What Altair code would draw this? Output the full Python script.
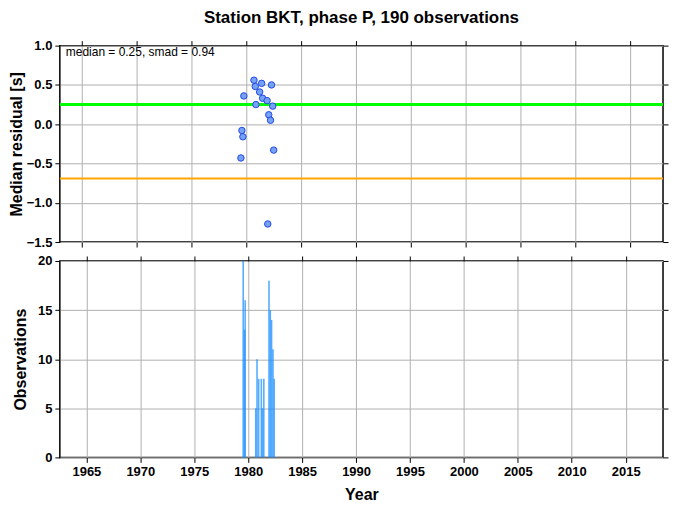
import altair as alt
import pandas as pd

# ---- data ----
pt_years = [1980.70, 1981.40, 1982.30, 1980.82, 1981.22, 1979.78, 1981.49, 1981.90,
            1980.88, 1982.41, 1982.05, 1982.21, 1979.60, 1979.69, 1982.50, 1979.51, 1981.96]
pt_resid = [0.56, 0.52, 0.50, 0.48, 0.41, 0.36, 0.33, 0.30,
            0.25, 0.23, 0.12, 0.05, -0.08, -0.16, -0.33, -0.43, -1.27]

bar_years = [1979.54, 1979.72, 1979.66, 1980.70, 1980.82, 1980.97, 1981.22, 1981.33,
             1981.45, 1981.93, 1982.05, 1982.17, 1982.30, 1982.41]
bar_counts = [20, 16, 13, 5, 10, 8, 8, 5, 8, 18, 15, 14, 11, 8]

median = 0.25
smad = 0.94
lower = median - smad
stats_text = ["median = 0.25, smad = 0.94"]
title_text = "Station BKT, phase P, 190 observations"

x_ticks = [1965, 1970, 1975, 1980, 1985, 1990, 1995, 2000, 2005, 2010, 2015]
y_top_ticks = [-1.5, -1.0, -0.5, 0.0, 0.5, 1.0]
y_bot_ticks = [0, 5, 10, 15, 20]

pts = pd.DataFrame({"year": pt_years, "resid": pt_resid})
bars = pd.DataFrame({"year": bar_years, "count": bar_counts})
lines = pd.DataFrame({"resid": [median, lower], "kind": ["median", "lower"]})
stats = pd.DataFrame({"t": stats_text})

FONT = "Liberation Sans"
W = 605
H = 197
xscale = alt.Scale(domain=[1963, 2018], nice=False, zero=False)
ytop_scale = alt.Scale(domain=[-1.5, 1.0], nice=False, zero=False)
ybot_scale = alt.Scale(domain=[0, 20], nice=False)

# ---- top panel ----
x_top_bottom_axis = alt.Axis(orient="bottom", values=x_ticks, labels=False, title=None,
                             grid=True, ticks=True)
y_top_axis = alt.Axis(orient="left", values=y_top_ticks, format=".1f",
                      title="Median residual [s]", grid=True,
                      titleX=-43, titleY=H / 2, titleAngle=270,
                      titleAlign="center", titleBaseline="middle")

points = alt.Chart(pts).mark_circle(
    size=42, fill="#74A2F4", stroke="#2448E6", strokeWidth=1, opacity=1
).encode(
    x=alt.X("year:Q", scale=xscale, axis=x_top_bottom_axis),
    y=alt.Y("resid:Q", scale=ytop_scale, axis=y_top_axis),
)

green = alt.Chart(lines[lines.kind == "median"]).mark_rule(
    color="#00FF00", strokeWidth=3
).encode(y=alt.Y("resid:Q", scale=ytop_scale, axis=None))

orange = alt.Chart(lines[lines.kind == "lower"]).mark_rule(
    color="#FFA500", strokeWidth=2
).encode(y=alt.Y("resid:Q", scale=ytop_scale, axis=None))

stats_mark = alt.Chart(stats).mark_text(
    align="left", baseline="middle", fontSize=12, font=FONT, color="black"
).encode(x=alt.value(6), y=alt.value(6), text="t:N")

ticks_top = alt.Chart(pts).mark_point(opacity=0).encode(
    x=alt.X("year:Q", scale=xscale,
            axis=alt.Axis(orient="top", values=x_ticks, labels=False, title=None, grid=False)),
    y=alt.Y("resid:Q", scale=ytop_scale,
            axis=alt.Axis(orient="right", values=y_top_ticks, labels=False, title=None, grid=False)),
)

top = alt.layer(orange, green, points, stats_mark, ticks_top).resolve_axis(
    x="independent", y="independent"
).properties(width=W, height=H)

# ---- bottom panel ----
x_bot_axis = alt.Axis(orient="bottom", values=x_ticks, format="d", title="Year", grid=True,
                      titlePadding=8)
y_bot_axis = alt.Axis(orient="left", values=y_bot_ticks, format="d", title="Observations",
                      grid=True, titleX=-39, titleY=H / 2, titleAngle=270,
                      titleAlign="center", titleBaseline="middle")

barmark = alt.Chart(bars).mark_bar(size=1.6, color="#1E90FF", opacity=0.75).encode(
    x=alt.X("year:Q", scale=xscale, axis=x_bot_axis),
    y=alt.Y("count:Q", scale=ybot_scale, axis=y_bot_axis),
)

ticks_bot = alt.Chart(bars).mark_point(opacity=0).encode(
    x=alt.X("year:Q", scale=xscale,
            axis=alt.Axis(orient="top", values=x_ticks, labels=False, title=None, grid=False)),
    y=alt.Y("count:Q", scale=ybot_scale,
            axis=alt.Axis(orient="right", values=y_bot_ticks, labels=False, title=None, grid=False)),
)

bottom = alt.layer(barmark, ticks_bot).resolve_axis(
    x="independent", y="independent"
).properties(width=W, height=H)

chart = alt.vconcat(top, bottom, spacing=4).properties(
    title=alt.TitleParams(title_text, fontSize=17, font=FONT, fontWeight="bold",
                          anchor="middle", offset=12, color="black"),
    padding={"left": 0, "top": 0, "right": 0, "bottom": 0},
).configure_view(
    stroke="black", strokeWidth=1.5
).configure_axis(
    domain=False, tickColor="black", tickSize=5, tickWidth=1,
    gridColor="#b0b0b0", gridWidth=1,
    labelFont=FONT, labelFontSize=13, labelFontWeight="bold", labelColor="black",
    labelPadding=3,
    titleFont=FONT, titleFontSize=16, titleFontWeight="bold", titleColor="black",
).configure_title(frame="group")

chart.save("out.html", embed_options={"renderer": "svg", "actions": False})
